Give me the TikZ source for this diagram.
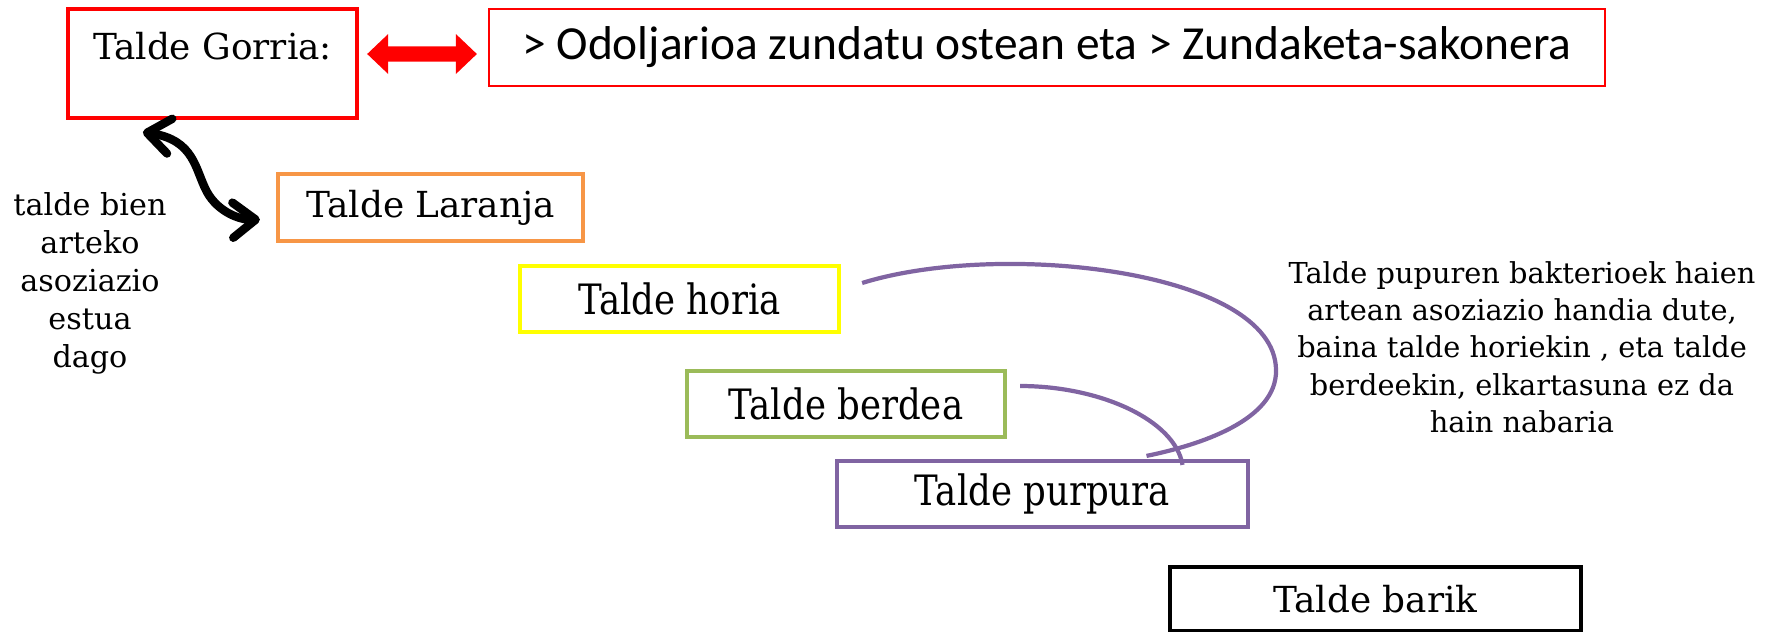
\documentclass[tikz,border=0pt]{standalone}
\usepackage{fontspec}
\setmainfont{DejaVu Serif}
\newfontfamily\calib{Carlito}
\newfontfamily\narrowserif[FakeStretch=0.85]{DejaVu Serif}
\usetikzlibrary{arrows.meta}
\definecolor{gorri}{RGB}{255,0,0}
\definecolor{laranja}{RGB}{247,150,70}
\definecolor{hori}{RGB}{255,255,0}
\definecolor{berde}{RGB}{155,187,89}
\definecolor{purpura}{RGB}{128,100,162}

\begin{document}
\begin{tikzpicture}[x=0.1mm,y=-0.1mm,
  taldebox/.style={draw, line width=1.2pt, inner sep=0pt, font=\fontsize{10.2}{12}\selectfont},
  narrowbox/.style={taldebox, font=\narrowserif\fontsize{11.9}{13}\selectfont},
  oharra/.style={align=center, inner sep=0pt, font=\fontsize{8.2}{10.6}\selectfont},
  lotura/.style={purpura, line width=1.2pt}]
\useasboundingbox (0,0) rectangle (1772,631);

\node [taldebox, draw=gorri, minimum width=28.9mm, text height=5mm, text depth=5.9mm] (gorria) at (212.5,63.5) {Talde Gorria:};
\node [draw=gorri, line width=0.6pt, minimum width=111.6mm, minimum height=7.7mm, inner sep=0pt,
  font=\calib\fontsize{13.5}{16}\selectfont] (odol) at (1047,47.5) {> Odoljarioa zundatu ostean eta > Zundaketa-sakonera};

\node [taldebox, draw=laranja, minimum width=30.5mm, minimum height=6.7mm] (laranja) at (430.5,207.5) {Talde Laranja};
\node [narrowbox, draw=hori, minimum width=31.9mm, minimum height=6.6mm] (horia) at (679.5,299) {Talde horia};
\node [narrowbox, draw=berde, minimum width=31.8mm, minimum height=6.6mm] (berdea) at (846,404) {Talde berdea};
\node [narrowbox, draw=purpura, minimum width=41.1mm, minimum height=6.6mm] (purpura) at (1042.5,494) {Talde purpura};
\node [taldebox, draw=black, minimum width=41.1mm, minimum height=6.4mm] (barik) at (1375.5,599) {Talde barik};

\node [oharra, font=\fontsize{8.6}{10.8}\selectfont] (bien) at (90,283) {talde bien\\arteko\\asoziazio\\estua\\dago};
\node [oharra] (pupuren) at (1522,347) {Talde pupuren bakterioek haien\\artean asoziazio handia dute,\\baina talde horiekin , eta talde\\berdeekin, elkartasuna ez da\\hain nabaria};

\draw [gorri, line width=4.3pt, {Triangle[length=6pt,width=11pt]}-{Triangle[length=6pt,width=11pt]}]
  ([shift={(8,-9.5)}]gorria.east) -- ([shift={(-11,6.5)}]odol.west);

\draw [line width=2.4pt, line cap=round, {Straight Barb[length=6.5pt,width=10pt,round]}-{Straight Barb[length=6.5pt,width=10pt,round]}]
  ([shift={(77,12)}]gorria.south west) .. controls (195,140) and (195,170) .. (207,192)
  .. controls (218,212) and (240,220) .. ([shift={(-16,12)}]laranja.west);

\draw [lotura] ([shift={(21,-16)}]horia.east) .. controls (1000,240) and (1275,270) .. (1276,370)
  .. controls (1277,420) and (1200,445) .. ([shift={(104,-3)}]purpura.north);
\draw [lotura] ([shift={(13,-18)}]berdea.east) .. controls (1100,386) and (1175,420) .. ([shift={(140,6)}]purpura.north);

\end{tikzpicture}
\end{document}
